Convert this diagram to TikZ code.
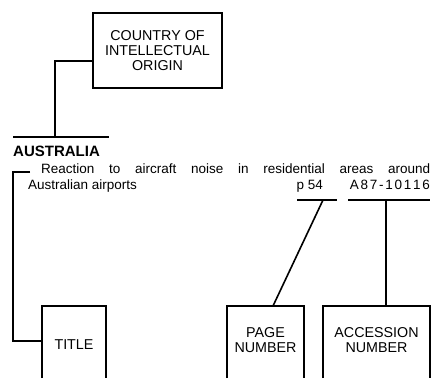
\documentclass[tikz,border=0pt]{standalone}
\usepackage{fontspec}
\setmainfont{Liberation Sans}
\begin{document}
\begin{tikzpicture}[x=1pt,y=-1pt,
  boxline/.style={line width=1.8pt},
  conn/.style={line width=1.6pt},
  lbl/.style={font=\fontsize{14.3}{15}\selectfont, align=center, inner sep=0pt},
  body/.style={font=\fontsize{13.5}{15}\selectfont, inner sep=0pt, anchor=base west}]
\useasboundingbox (0,0) rectangle (434,378);
% top box
\node[boxline, draw, minimum width=129pt, minimum height=75pt, inner sep=0pt, lbl] (coi) at (157.5,50.5) {COUNTRY OF\\INTELLECTUAL\\ORIGIN};
% Australia
\coordinate (ausL) at (13,137);
\coordinate (ausR) at (109,137);
\coordinate (ausM) at (55,137);
\draw[line width=2pt] (ausL) -- (ausR);
\draw[conn] (coi.west |- 0,61) -| (ausM);
\node[anchor=base west, inner sep=0pt, font=\fontsize{15}{17}\selectfont\bfseries] (aus) at (13,156) {AUSTRALIA};
% body text
\node[body] (t1) at (41,173) {\makebox[389pt][s]{Reaction to aircraft noise in residential areas around}};
\node[body] (t2) at (28,189) {Australian airports};
\node[body, anchor=base east] (pg) at (323,189) {p 54};
\node[body, anchor=base east] (acc) at (430,189) {\makebox[80pt][s]{A\hfil8\hfil7\hfil-\hfil1\hfil0\hfil1\hfil1\hfil6}};
% underlines
\coordinate (pgL) at (297,200);
\coordinate (pgR) at (337,200);
\coordinate (pgM) at (323,200);
\coordinate (acL) at (348,200);
\coordinate (acR) at (430,200);
\coordinate (acM) at (386,200);
\draw[conn] (pgL) -- (pgR);
\draw[conn] (acL) -- (acR);
% bottom boxes (open at bottom)
\draw[boxline] (42,378) -- (42,306) -- (106,306) -- (106,378);
\node[lbl] (title) at (74,345) {TITLE};
\draw[boxline] (227,378) -- (227,306) -- (304,306) -- (304,378);
\node[lbl] (page) at (265.5,340) {PAGE\\NUMBER};
\draw[boxline] (323,378) -- (323,306) -- (430,306) -- (430,378);
\node[lbl] (accn) at (376.5,340) {ACCESSION\\NUMBER};
\coordinate (titleIn) at (42,341);
\coordinate (pageTop) at (273,306);
\coordinate (accTop) at (386,306);
% connectors
\coordinate (brTop) at (13,172);
\coordinate (brEnd) at (30,172);
\draw[conn] (brEnd) -- (brTop) -- (brTop |- titleIn) -- (titleIn);
\draw[conn] (pgM) -- (pageTop);
\draw[conn] (acM) -- (accTop);
\end{tikzpicture}
\end{document}
